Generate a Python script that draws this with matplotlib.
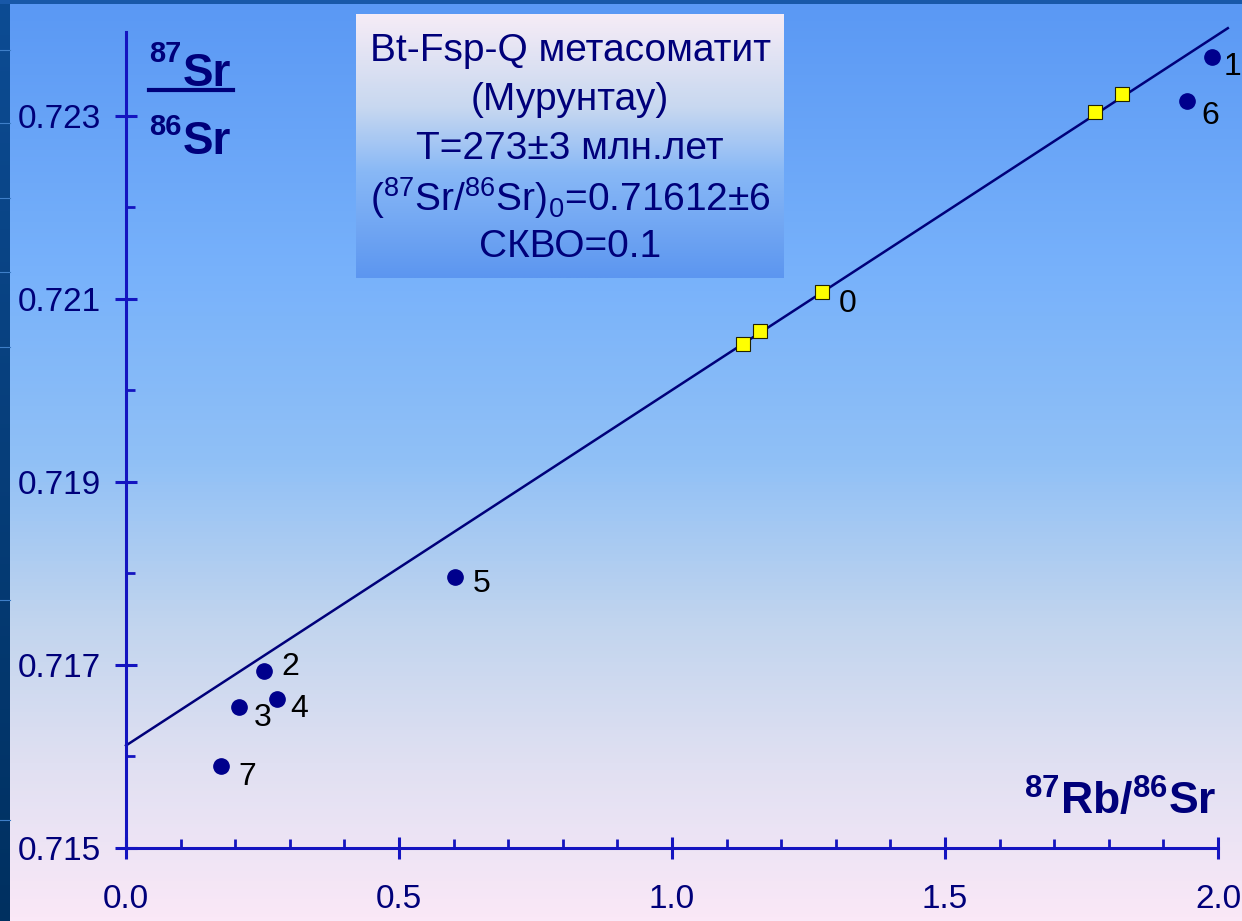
import numpy as np
import matplotlib.pyplot as plt
from matplotlib.colors import LinearSegmentedColormap
from matplotlib.patches import Rectangle

plt.rcParams['font.family'] = ['Liberation Sans', 'DejaVu Sans']
plt.rcParams['mathtext.fontset'] = 'custom'
plt.rcParams['mathtext.rm'] = 'Liberation Sans'
plt.rcParams['mathtext.it'] = 'Liberation Sans'
plt.rcParams['mathtext.bf'] = 'Liberation Sans:bold'

# whole-rock samples (dots) and mineral fractions (squares)
dot_labels = ['1', '2', '3', '4', '5', '6', '7']
dot_rbsr = [1.989, 0.253, 0.207, 0.276, 0.603, 1.943, 0.174]
dot_srsr = [0.72364, 0.71693, 0.71654, 0.71663, 0.71796, 0.72316, 0.71590]

sq_rbsr = [1.130, 1.161, 1.275, 1.775, 1.824]
sq_srsr = [0.72051, 0.72065, 0.72108, 0.72304, 0.72324]
sq_labels = ['', '', '0', '', '']

# isochron
age_ma = 273
sr0 = 0.71612
lam = 1.42e-11
slope = np.exp(lam * age_ma * 1e6) - 1
iso_x = np.array([0.0, 2.018])

info_lines = ['Bt-Fsp-Q метасоматит', '(Мурунтау)', 'T=273±3 млн.лет',
              r'($^{87}$Sr/$^{86}$Sr)$_0$=0.71612±6', 'СКВО=0.1']

navy = '#00007a'
axis_blue = '#1414c0'

W, H = 1242, 921
fig = plt.figure(figsize=(W / 100, H / 100), dpi=100)

# background in pixel coordinates
bg = fig.add_axes([0, 0, 1, 1], zorder=-5)
bg.set_xlim(0, W)
bg.set_ylim(H, 0)
bg.axis('off')
bg_cmap = LinearSegmentedColormap.from_list('bg', [
    (0.0, '#5a98f4'), (0.3, '#78b2fb'), (0.5, '#90c0f6'),
    (0.68, '#c2d5ee'), (0.83, '#e0e0f2'), (1.0, '#fae8f7')])
grad = np.linspace(0, 1, 256).reshape(-1, 1)
bg.imshow(grad, cmap=bg_cmap, aspect='auto', extent=(0, W, H, 0))
side_cmap = LinearSegmentedColormap.from_list('side', ['#0d4c94', '#003060'])
bg.imshow(grad, cmap=side_cmap, aspect='auto', extent=(0, 10, H, 0))
for yy in [50, 123, 198, 272, 347, 600, 820]:
    bg.plot([0, 10], [yy, yy], color='#3f7fc8', lw=0.8)
bg.add_patch(Rectangle((0, 0), W, 4, color='#1858a8', lw=0))

# info box with its own gradient
box_cmap = LinearSegmentedColormap.from_list('box', [
    (0.0, '#f6ecf6'), (0.35, '#c8d8f0'), (0.6, '#88b8f6'), (1.0, '#5c96f0')])
bg.imshow(grad, cmap=box_cmap, aspect='auto', extent=(356, 784, 278, 15))
for i, line in enumerate(info_lines):
    bg.text(570, 51 + i * 49, line, fontsize=28, color=navy,
            ha='center', va='center')

# y-axis label as a fraction
bg.text(149, 62, '87', fontsize=21, fontweight='bold', color=navy, va='baseline')
bg.text(183, 86, 'Sr', fontsize=33, fontweight='bold', color=navy, va='baseline')
bg.plot([149, 233], [90, 90], color=navy, lw=3)
bg.text(149, 135, '86', fontsize=21, fontweight='bold', color=navy, va='baseline')
bg.text(183, 154, 'Sr', fontsize=33, fontweight='bold', color=navy, va='baseline')

# x-axis label
bg.text(1217, 815, r'$\mathbf{^{87}Rb/^{86}Sr}$', fontsize=32, color=navy,
        ha='right', va='baseline')

# main plot
ax = fig.add_axes([126 / W, 73 / H, 2.02 * 546 / W, 820 / H])
ax.set_facecolor('none')
ax.set_xlim(0, 2.02)
ax.set_ylim(0.715, 0.72396)

ax.plot(iso_x, sr0 + slope * iso_x, color=navy, lw=1.8, clip_on=False, zorder=2)
ax.plot(dot_rbsr, dot_srsr, 'o', color='#00008c', ms=11, zorder=3)
ax.plot(sq_rbsr, sq_srsr, 's', color='#ffff00', mec='#222200', mew=0.8,
        ms=10, zorder=3)

dot_offsets = {'1': (15, -7), '2': (19, 3), '3': (17, -8), '4': (16, -7),
               '5': (19, -5), '6': (17, -11), '7': (19, -8)}
for lab, x, y in zip(dot_labels, dot_rbsr, dot_srsr):
    ax.annotate(lab, (x, y), xytext=dot_offsets[lab], textcoords='offset points',
                fontsize=23, ha='center', va='center', color='black',
                annotation_clip=False)
for lab, x, y in zip(sq_labels, sq_rbsr, sq_srsr):
    if lab:
        ax.annotate(lab, (x, y), xytext=(18, -9), textcoords='offset points',
                    fontsize=23, ha='center', va='center', color='black')

for s in ['top', 'right']:
    ax.spines[s].set_visible(False)
for s in ['left', 'bottom']:
    ax.spines[s].set_color(axis_blue)
    ax.spines[s].set_linewidth(2.2)
ax.spines['left'].set_bounds(0.715, 0.72392)
ax.spines['bottom'].set_bounds(0, 2.0)

ax.set_xticks([0.0, 0.5, 1.0, 1.5, 2.0])
ax.set_xticklabels(['0.0', '0.5', '1.0', '1.5', '2.0'])
ax.set_xticks(np.arange(1, 20) / 10, minor=True)
ax.set_yticks([0.715, 0.717, 0.719, 0.721, 0.723])
ax.set_yticklabels(['0.715', '0.717', '0.719', '0.721', '0.723'])
ax.set_yticks([0.716, 0.718, 0.720, 0.722], minor=True)

ax.tick_params(which='major', direction='inout', length=16, width=2.2,
               color=axis_blue, labelcolor=navy, labelsize=24)
ax.tick_params(which='minor', direction='in', length=6.5, width=2.0,
               color=axis_blue)
ax.tick_params(axis='x', which='major', pad=18)
ax.tick_params(axis='y', which='major', pad=10)

fig.savefig('out.png', dpi=100)
